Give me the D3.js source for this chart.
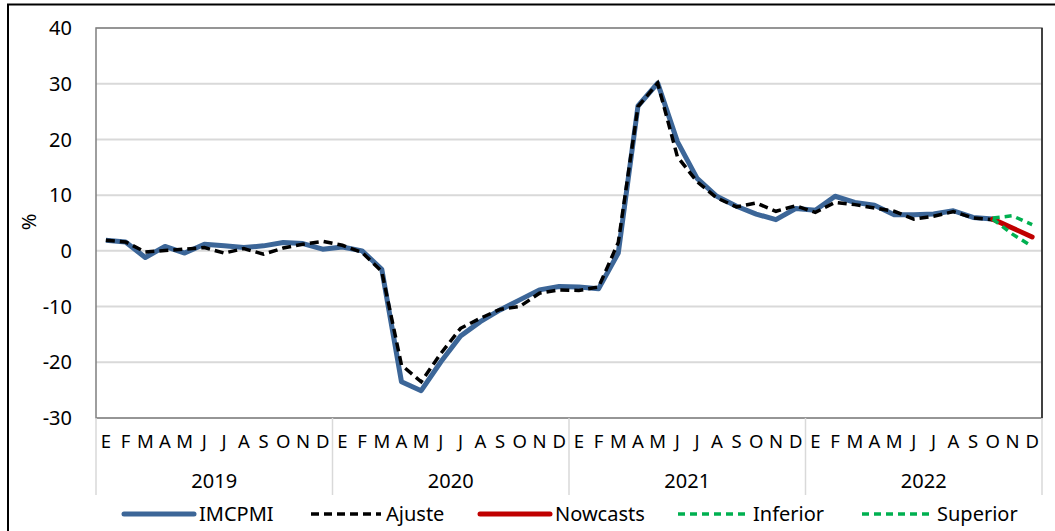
<!DOCTYPE html>
<html>
<head>
<meta charset="utf-8">
<script src="https://cdn.jsdelivr.net/npm/d3@7"></script>
<style>
  body { margin: 0; background: #fff; }
  svg text { font-family: "Noto Sans", sans-serif; fill: #000; }
</style>
</head>
<body>
<div id="chart"></div>
<script>
// month labels and years
var months = ["E","F","M","A","M","J","J","A","S","O","N","D"];
var years = ["2019","2020","2021","2022"];
var yTicks = [-30,-20,-10,0,10,20,30,40];

// series (variacion %, 48 months)
var imcpmi = [1.9,1.6,-1.2,0.8,-0.4,1.2,0.9,0.6,0.9,1.5,1.3,0.3,
  0.7,0.0,-3.3,-23.5,-25.1,-19.9,-15.3,-12.7,-10.6,-8.8,-7.0,-6.4,
  -6.5,-6.8,-0.4,26.0,30.1,19.6,13.0,9.8,8.0,6.6,5.6,7.6,
  7.3,9.8,8.7,8.2,6.5,6.5,6.6,7.2,6.0,5.7,null,null];
var ajuste = [1.9,1.6,-0.2,0.05,0.3,0.6,-0.4,0.4,-0.6,0.5,1.2,1.7,
  1.0,-0.3,-3.7,-20.5,-23.5,-18.4,-13.9,-12.1,-10.5,-10.0,-7.6,-7.0,
  -7.1,-6.5,1.5,25.9,30.1,16.9,12.4,9.5,7.9,8.6,7.1,8.1,
  6.9,8.7,8.3,7.7,7.1,5.7,6.2,7.05,5.9,5.6,null,null];
var nowcasts = {45: 5.7, 46: 4.1, 47: 2.5};
var inferior = {45: 5.7, 46: 3.0, 47: 0.8};
var superior = {45: 5.9, 46: 6.3, 47: 4.7};

var svgWidth = 1055, svgHeight = 531;
var margin = {top: 28, left: 96, right: 13, bottom: 113};
var width = svgWidth - margin.left - margin.right;
var height = svgHeight - margin.top - margin.bottom;

var svg = d3.select("#chart").append("svg")
  .attr("width", svgWidth)
  .attr("height", svgHeight);

// title, cut off at the top edge as in the source, and outer frame
svg.append("text")
  .attr("x", 8).attr("y", -5)
  .style("font-size", "20px")
  .text("(Variación porcentual respecto al mismo mes del año anterior y cifras en por ciento)");
svg.append("rect")
  .attr("x", 8).attr("y", 4.5)
  .attr("width", 1200).attr("height", 700)
  .attr("fill", "none").attr("stroke", "#000").attr("stroke-width", 2);

var idx = d3.range(48);
var x = d3.scalePoint().domain(idx).range([0, width]).padding(0.5);
var step = x.step();
var y = d3.scaleLinear().domain([-30, 40]).range([height, 0]);

var g = svg.append("g").attr("transform", `translate(${margin.left},${margin.top})`);

// gridlines
g.selectAll(".grid").data(yTicks).enter().append("line")
  .attr("x1", 0).attr("x2", width)
  .attr("y1", d => y(d)).attr("y2", d => y(d))
  .attr("stroke", "#d9d9d9").attr("stroke-width", 2);

// plot frame
g.append("rect").attr("width", width).attr("height", height)
  .attr("fill", "none").attr("stroke", "#7f7f7f").attr("stroke-width", 1.5);
g.append("line").attr("x1", width).attr("x2", width).attr("y1", 0).attr("y2", height)
  .attr("stroke", "#222").attr("stroke-width", 1.5);

// y tick labels
g.selectAll(".ytl").data(yTicks).enter().append("text")
  .attr("x", -24).attr("y", d => y(d)).attr("dy", "0.36em")
  .attr("text-anchor", "end").style("font-size", "20px")
  .text(d => d);
svg.append("text")
  .attr("transform", "translate(36,222) rotate(-90)")
  .attr("text-anchor", "middle").style("font-size", "20px")
  .text("%");

// x axis: months, years, separators
g.selectAll(".mon").data(idx).enter().append("text")
  .attr("x", d => x(d)).attr("y", height + 30)
  .attr("text-anchor", "middle").style("font-size", "18.5px")
  .text(d => months[d % 12]);
g.selectAll(".yr").data(years).enter().append("text")
  .attr("x", (d, i) => x(i * 12) - step / 2 + step * 6).attr("y", height + 70)
  .attr("text-anchor", "middle").style("font-size", "20px")
  .text(d => d);
g.selectAll(".sep").data(d3.range(5)).enter().append("line")
  .attr("x1", i => i * 12 * step).attr("x2", i => i * 12 * step)
  .attr("y1", height).attr("y2", height + 77)
  .attr("stroke", "#d9d9d9").attr("stroke-width", 1.5);

function lineOf() {
  return d3.line()
    .defined(d => d.v != null)
    .x(d => x(d.i)).y(d => y(d.v));
}
function pts(arr) { return idx.map(i => ({i: i, v: arr[i] == null ? null : arr[i]})); }

g.append("path").datum(pts(imcpmi)).attr("d", lineOf())
  .attr("fill", "none").attr("stroke", "#3c6698").attr("stroke-width", 5)
  .attr("stroke-linejoin", "round");
g.append("path").datum(pts(ajuste)).attr("d", lineOf())
  .attr("fill", "none").attr("stroke", "#000").attr("stroke-width", 3.5)
  .attr("stroke-dasharray", "9,5");
g.append("path").datum(pts(nowcasts)).attr("d", lineOf())
  .attr("fill", "none").attr("stroke", "#c00000").attr("stroke-width", 5)
  .attr("stroke-linecap", "round");
[inferior, superior].forEach(function(s) {
  g.append("path").datum(pts(s)).attr("d", lineOf())
    .attr("fill", "none").attr("stroke", "#00b050").attr("stroke-width", 3.5)
    .attr("stroke-dasharray", "7,5");
});

// legend
var legend = [
  {name: "IMCPMI", x0: 124, color: "#3c6698", w: 5, dash: null, cap: "round"},
  {name: "Ajuste", x0: 311, color: "#000", w: 3.5, dash: "8,5", cap: "butt"},
  {name: "Nowcasts", x0: 480, color: "#c00000", w: 5, dash: null, cap: "round"},
  {name: "Inferior", x0: 678, color: "#00b050", w: 3.5, dash: "7,5", cap: "butt"},
  {name: "Superior", x0: 862, color: "#00b050", w: 3.5, dash: "7,5", cap: "butt"}
];
var lg = svg.selectAll(".lg").data(legend).enter().append("g");
lg.append("line")
  .attr("x1", d => d.x0).attr("x2", d => d.x0 + 70)
  .attr("y1", 514).attr("y2", 514)
  .attr("stroke", d => d.color).attr("stroke-width", d => d.w)
  .attr("stroke-dasharray", d => d.dash).attr("stroke-linecap", d => d.cap);
lg.append("text")
  .attr("x", d => d.x0 + 75).attr("y", 514).attr("dy", "0.36em")
  .style("font-size", "20px")
  .text(d => d.name);
</script>
</body>
</html>
